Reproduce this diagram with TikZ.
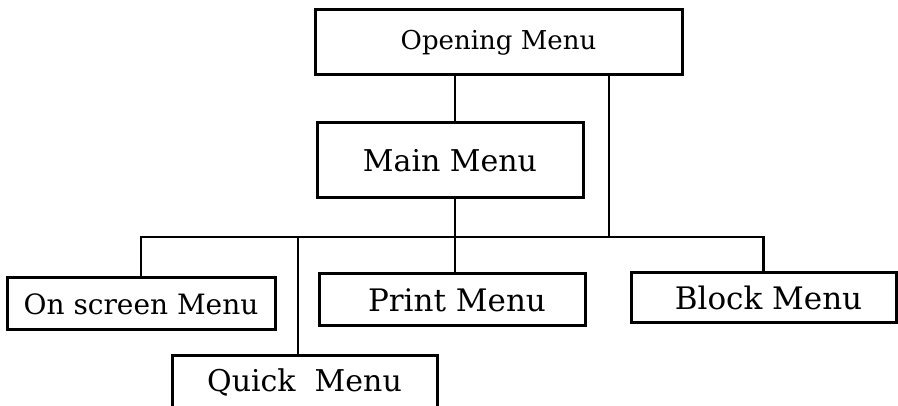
\documentclass[tikz,border=0pt]{standalone}
\usepackage{fontspec}
\setmainfont{DejaVu Serif}
\begin{document}
\begin{tikzpicture}[x=1pt,y=-1pt,
  menubox/.style={draw, line width=3pt, inner sep=0pt},
  fs/.style={font=\fontsize{#1}{#1}\selectfont},
  link/.style={line width=2.2pt}]
\clip (0,0) rectangle (898,406);
\useasboundingbox (0,0) rectangle (898,406);
\fill[white] (0,0) rectangle (898,406);
\node[menubox, fs=26, minimum width=367pt, minimum height=65pt] (open) at (498.5,42.5) {Opening Menu};
\node[menubox, fs=30, minimum width=266pt, minimum height=75pt] (main) at (450,160.5) {Main Menu};
\node[menubox, fs=28, minimum width=268pt, minimum height=52pt] (onscreen) at (141,304) {On screen Menu};
\node[menubox, fs=31, minimum width=266pt, minimum height=52pt] (print) at (452,300) {\hspace{10pt}Print Menu};
\node[menubox, fs=31, minimum width=265pt, minimum height=50pt] (block) at (763.5,298) {\hspace{10pt}Block Menu};
\node[menubox, fs=30, minimum width=265pt, minimum height=54pt] (quick) at (304.5,383) {Quick\ \ Menu};
\coordinate (xA) at (455,0);
\coordinate (xB) at (609,0);
\coordinate (xQ) at (298,0);
\coordinate (bus) at (0,237);
\draw[link] (open.south -| xA) -- (main.north -| xA);
\draw[link] (main.south -| xA) -- (print.north -| xA);
\draw[link] (open.south -| xB) -- (bus -| xB);
\draw[link] (onscreen.north) -- (bus -| onscreen.north) -- (bus -| block.north) -- (block.north);
\draw[link] (bus -| xQ) -- (quick.north -| xQ);
\end{tikzpicture}
\end{document}
